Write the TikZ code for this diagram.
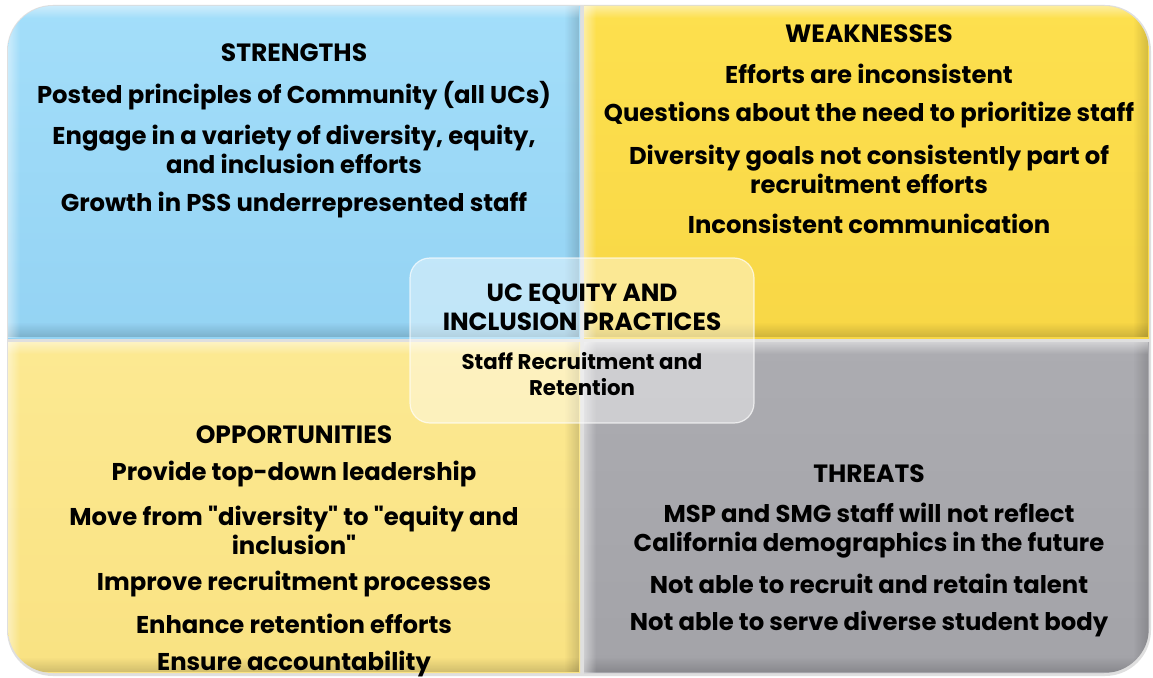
\documentclass[tikz,border=0pt]{standalone}
\usepackage{fontspec}
\setmainfont{Poppins}
\usetikzlibrary{fadings}
\tikzfading[name=toright, left color=transparent!100, right color=transparent!0]
\tikzfading[name=todown, top color=transparent!100, bottom color=transparent!0]
\tikzfading[name=toleft, left color=transparent!0, right color=transparent!100]
\tikzfading[name=toup, top color=transparent!0, bottom color=transparent!100]
\begin{document}
\begin{tikzpicture}[x=1pt,y=-1pt,
  txt/.style={font=\fontsize{24.3}{29}\selectfont\bfseries, text=black, align=center, inner sep=0pt},
  head/.style={font=\fontsize{25}{29}\selectfont\bfseries, text=black, align=center, inner sep=0pt},
  ctitle/.style={font=\fontsize{24.8}{29}\selectfont\bfseries, text=black, align=center, inner sep=0pt},
  csub/.style={font=\fontsize{21.3}{26}\selectfont\bfseries, text=black, align=center, inner sep=0pt},
  twoline/.style={font=\fontsize{24.3}{29}\selectfont\bfseries, text=black, align=center, inner sep=0pt},
  bevdark/.style={fill=black, fill opacity=0.16},
  bevlight/.style={fill=white, fill opacity=0.45}]
\useasboundingbox (0,0) rectangle (1153,677);
\fill[white] (0,0) rectangle (1153,677);
% outer soft shadow
\fill[gray!25, rounded corners=46] (7,5) rectangle (1151,676);
\begin{scope}
  \clip[rounded corners=45] (8,6) rectangle (1149,673);
  \shade[top color={rgb,255:red,163;green,222;blue,250}, bottom color={rgb,255:red,148;green,211;blue,243}] (8,6) rectangle (580,338);
  \shade[top color={rgb,255:red,253;green,224;blue,78}, bottom color={rgb,255:red,248;green,215;blue,70}] (584,6) rectangle (1149,338);
  \shade[top color={rgb,255:red,252;green,233;blue,146}, bottom color={rgb,255:red,249;green,226;blue,130}] (8,342) rectangle (580,673);
  \shade[top color={rgb,255:red,172;green,172;blue,177}, bottom color={rgb,255:red,163;green,163;blue,168}] (584,342) rectangle (1149,673);
  % bevels: dark right/bottom, light top/left
  \foreach \xa/\ya/\xb/\yb in {8/6/580/338, 584/6/1149/338, 8/342/580/673, 584/342/1149/673}{
    \path[bevdark, path fading=toright] (\xb-16,\ya) rectangle (\xb-1,\yb-1);
    \path[bevdark, path fading=todown] (\xa,\yb-16) rectangle (\xb-1,\yb-1);
    \path[bevlight, path fading=toleft] (\xa,\ya) rectangle (\xa+12,\yb);
    \path[bevlight, path fading=toup] (\xa,\ya) rectangle (\xb,\ya+12);
  }
\end{scope}
% center box
\fill[white, fill opacity=0.42, rounded corners=20] (410,258) rectangle (754,423);
\draw[white, opacity=0.7, line width=1.2, rounded corners=20] (410,258) rectangle (754,423);

% Strengths
\node[head] (s0) at (294,53) {STRENGTHS};
\node[txt] (s1) at (294,96) {Posted principles of Community (all UCs)};
\node[twoline] (s2) at (294,149) {Engage in a variety of diversity, equity,\\and inclusion efforts};
\node[txt] (s3) at (294,205) {Growth in PSS underrepresented staff};

% Weaknesses
\node[head] (w0) at (869,34) {WEAKNESSES};
\node[txt] (w1) at (869,74) {Efforts are inconsistent};
\node[txt] (w2) at (869,115) {Questions about the need to prioritize staff};
\node[twoline] (w3) at (869,169.5) {Diversity goals not consistently part of\\recruitment efforts};
\node[txt] (w4) at (869,224) {Inconsistent communication};

% Center
\node[ctitle] (c1) at (582,307.5) {UC EQUITY AND\\INCLUSION PRACTICES};
\node[csub] (c2) at (582,374) {Staff Recruitment and\\Retention};

% Opportunities
\node[head] (o0) at (294,435) {OPPORTUNITIES};
\node[txt] (o1) at (294,474) {Provide top-down leadership};
\node[twoline] (o2) at (294,530.5) {Move from \textquotedbl diversity\textquotedbl{} to \textquotedbl equity and\\inclusion\textquotedbl};
\node[txt] (o3) at (294,584) {Improve recruitment processes};
\node[txt] (o4) at (294,624) {Enhance retention efforts};
\node[txt] (o5) at (294,664) {Ensure accountability};

% Threats
\node[head] (t0) at (869,474) {THREATS};
\node[twoline] (t1) at (869,530.5) {MSP and SMG staff will not reflect\\California demographics in the future};
\node[txt] (t2) at (869,584) {Not able to recruit and retain talent};
\node[txt] (t3) at (869,624) {Not able to serve diverse student body};
\end{tikzpicture}
\end{document}
